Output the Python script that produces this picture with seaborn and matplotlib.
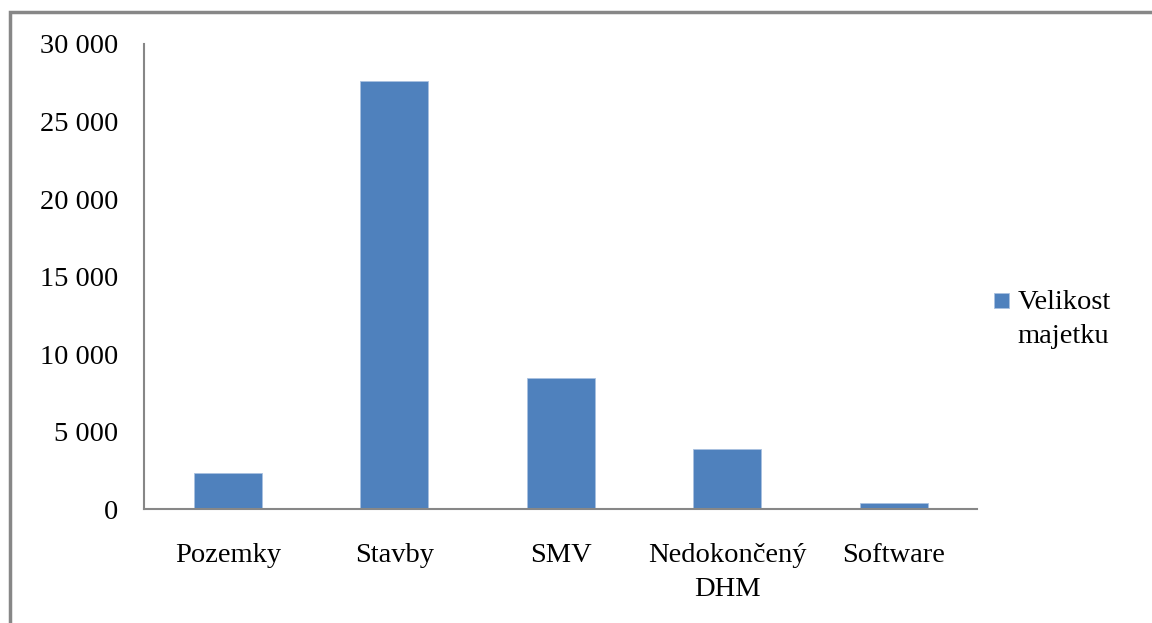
import matplotlib
matplotlib.use("Agg")
import matplotlib.pyplot as plt
from matplotlib.patches import Rectangle
from matplotlib.legend_handler import HandlerPatch
from matplotlib.ticker import FuncFormatter
import pandas as pd
import seaborn as sns

categories = ["Pozemky", "Stavby", "SMV", "Nedokončený\nDHM", "Software"]
values = [2350, 27600, 8500, 3900, 390]
series_name = "Velikost\nmajetku"

sns.set_style("white")
plt.rcParams["font.family"] = ["Liberation Serif", "DejaVu Serif"]
plt.rcParams["text.color"] = "black"

df = pd.DataFrame({"category": categories, "value": values, "series": series_name})

fig = plt.figure(figsize=(11.52, 6.23), dpi=100)
ax = fig.add_axes([0.1254, 0.1822, 0.7226, 0.7472])

sns.barplot(data=df, x="category", y="value", hue="series", palette=["#4F81BD"],
            saturation=1, width=0.41, ax=ax, edgecolor="#A9C1E0", linewidth=0.6,
            legend=True)

ax.set_ylim(0, 30000)
ax.set_yticks(range(0, 30001, 5000))
ax.yaxis.set_major_formatter(FuncFormatter(lambda v, p: f"{int(v):,}".replace(",", " ")))
ax.set_xlabel("")
ax.set_ylabel("")
ax.tick_params(axis="both", length=0, labelsize=20.5, colors="black")
ax.tick_params(axis="y", pad=19)
ax.tick_params(axis="x", pad=24)
for lab in ax.get_xticklabels():
    lab.set_linespacing(1.5)
for s in ["top", "right"]:
    ax.spines[s].set_visible(False)
for s in ["left", "bottom"]:
    ax.spines[s].set_color("#878787")
    ax.spines[s].set_linewidth(1.5)


# small square aligned with the first line of the two-line label
def top_square(legend, orig_handle, xdescent, ydescent, width, height, fontsize):
    size = 0.52 * fontsize
    return Rectangle((-xdescent, -ydescent + height - size + 0.32 * fontsize),
                     size, size)


handles, labels = ax.get_legend_handles_labels()
leg = ax.legend(handles, labels, loc="center left", bbox_to_anchor=(1.0, 0.408),
                frameon=False, fontsize=20.5, handlelength=0.52, handleheight=1.55,
                handletextpad=0.3, borderaxespad=0.2,
                handler_map={handles[0]: HandlerPatch(patch_func=top_square)})
for t in leg.get_texts():
    t.set_color("black")
    t.set_linespacing(1.45)

# outer chart-area border
fig.patches.append(Rectangle((9.5 / 1152, -0.05), 1.1, 0.05 + 1 - 12 / 623,
                             transform=fig.transFigure, fill=False,
                             edgecolor="#878787", linewidth=2.5))

fig.savefig("out.png", dpi=100)
